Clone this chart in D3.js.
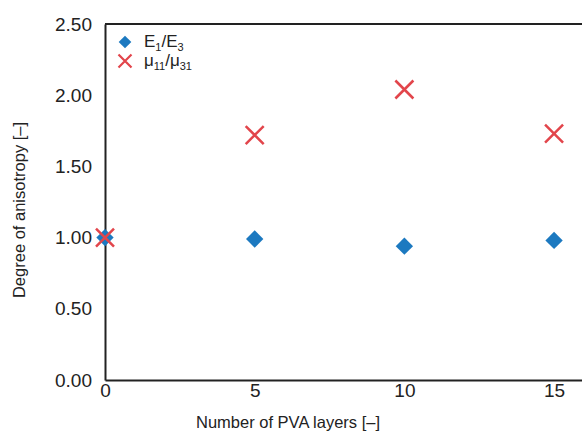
<!DOCTYPE html>
<html>
<head>
<meta charset="utf-8">
<script src="https://cdn.jsdelivr.net/npm/d3@7"></script>
<style>
  body { margin: 0; background: #fff; }
  text { font-family: "Liberation Sans", Arial, sans-serif; fill: #222; }
</style>
</head>
<body>
<script>
// 各层数的各向异性程度
let layers = [0, 5, 10, 15]
let ratioE = [1.00, 0.99, 0.94, 0.98]
let ratioMu = [1.00, 1.72, 2.04, 1.73]
let yTicks = [0, 0.5, 1.0, 1.5, 2.0, 2.5]
let xTicks = [0, 5, 10, 15]

let W = 582
let H = 433
let svg = d3.select('body').append('svg')
  .attr('width', W)
  .attr('height', H)

let x = d3.scaleLinear().domain([0, 16]).range([105, 584])
let y = d3.scaleLinear().domain([0, 2.5]).range([380, 24])

// 坐标轴
let gx = svg.append('g')
  .attr('transform', 'translate(0,380)')
  .call(d3.axisBottom(x).tickValues(xTicks).tickSize(0).tickPadding(4).tickFormat(d3.format('d')))
let gy = svg.append('g')
  .attr('transform', 'translate(105,0)')
  .call(d3.axisLeft(y).tickValues(yTicks).tickSize(0).tickPadding(13).tickFormat(d3.format('.2f')))
;[gx, gy].forEach(g => {
  g.select('.domain').attr('stroke', '#222').attr('stroke-width', 2)
  g.selectAll('text').style('font-size', '19px').attr('fill', '#222')
})
// 顶边
svg.append('line')
  .attr('x1', 105).attr('x2', W).attr('y1', 24).attr('y2', 24)
  .attr('stroke', '#222').attr('stroke-width', 2)

// 轴标题
svg.append('text')
  .attr('x', 288).attr('y', 428)
  .attr('text-anchor', 'middle')
  .style('font-size', '16.5px')
  .text('Number of PVA layers [–]')
svg.append('text')
  .attr('transform', 'translate(25,210) rotate(-90)')
  .attr('text-anchor', 'middle')
  .style('font-size', '16.5px')
  .text('Degree of anisotropy [–]')

let blue = '#1c79c0'
let red = '#e2454b'
let diamond = d3.symbol().type(d3.symbolSquare).size(150)
let crossPath = function (s) {
  return 'M' + -s + ',' + -s + 'L' + s + ',' + s + 'M' + -s + ',' + s + 'L' + s + ',' + -s
}

// 数据点
svg.append('g').selectAll('path')
  .data(layers)
  .enter().append('path')
  .attr('d', diamond)
  .attr('transform', (d, i) => 'translate(' + x(d) + ',' + y(ratioE[i]) + ') rotate(45)')
  .attr('fill', blue)
svg.append('g').selectAll('path')
  .data(layers)
  .enter().append('path')
  .attr('d', crossPath(9))
  .attr('transform', (d, i) => 'translate(' + x(d) + ',' + y(ratioMu[i]) + ')')
  .attr('stroke', red)
  .attr('stroke-width', 2.5)
  .attr('fill', 'none')

// 图例
let leg = svg.append('g')
leg.append('path')
  .attr('d', d3.symbol().type(d3.symbolSquare).size(80))
  .attr('transform', 'translate(125,42) rotate(45)')
  .attr('fill', blue)
leg.append('path')
  .attr('d', crossPath(6.5))
  .attr('transform', 'translate(125,61)')
  .attr('stroke', red).attr('stroke-width', 2.2).attr('fill', 'none')
let t1 = leg.append('text').attr('x', 144).attr('y', 47).style('font-size', '17px')
t1.append('tspan').text('E')
t1.append('tspan').text('1').attr('dy', 4).style('font-size', '11px')
t1.append('tspan').text('/E').attr('dy', -4)
t1.append('tspan').text('3').attr('dy', 4).style('font-size', '11px')
let t2 = leg.append('text').attr('x', 144).attr('y', 66).style('font-size', '17px')
t2.append('tspan').text('μ')
t2.append('tspan').text('11').attr('dy', 4).style('font-size', '11px')
t2.append('tspan').text('/μ').attr('dy', -4)
t2.append('tspan').text('31').attr('dy', 4).style('font-size', '11px')
</script>
</body>
</html>
